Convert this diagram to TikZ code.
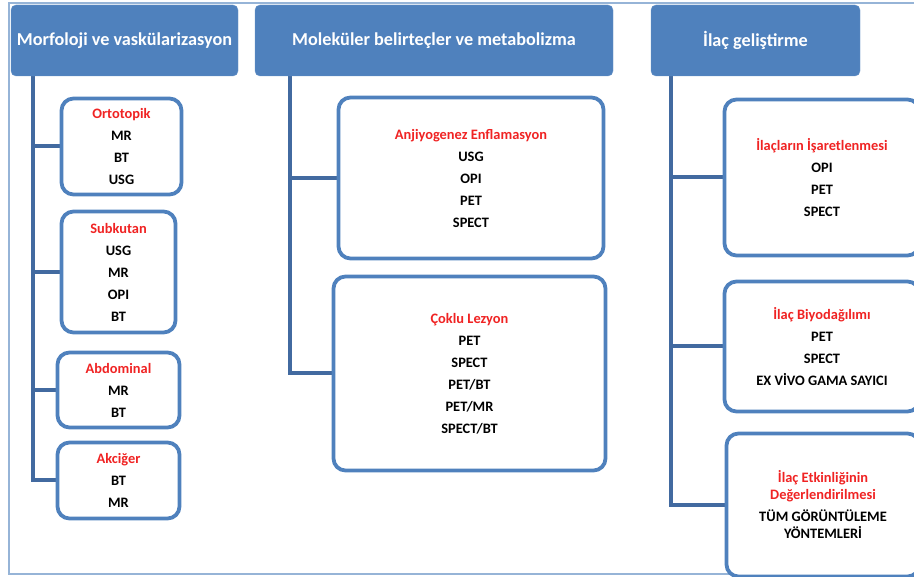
\documentclass[tikz,border=0pt]{standalone}
\usepackage{fontspec}
\setmainfont{Carlito}
\usetikzlibrary{positioning}
\usetikzlibrary{backgrounds}
\definecolor{hdrblue}{RGB}{79,129,189}
\definecolor{linkblue}{RGB}{66,106,160}
\definecolor{frameblue}{RGB}{150,180,215}
\definecolor{titlered}{RGB}{240,35,35}
\newcommand{\boxtitle}[1]{\textcolor{titlered}{#1}}

\begin{document}
\begin{tikzpicture}[%
    x=1pt, y=-1pt,
    hnode/.style={rectangle, rounded corners=5pt, fill=hdrblue, draw=hdrblue!85!white, text=white, align=center, minimum height=71pt, font=\fontsize{18.2}{22}\selectfont\bfseries},
    cnode/.style={rectangle, rounded corners=12pt, draw=hdrblue, fill=white, line width=3.8pt, align=center, font=\fontsize{14.4}{17}\selectfont\bfseries},
    link/.style={draw=linkblue, line width=4pt, line join=miter}
]
\useasboundingbox (0,0) rectangle (914,577);
\clip (0,0) rectangle (914,577);

% frame
\draw[frameblue, line width=1.2pt] (914,3) -- (9,3) -- (9,574) -- (914,574);

% headers
\node[hnode, minimum width=227pt] (morph) at (124.5,40.5) {Morfoloji ve vaskülarizasyon};
\node[hnode, minimum width=358pt] (molek) at (434,40.5) {Moleküler belirteçler ve metabolizma};
\node[hnode, minimum width=209pt] (ilac)  at (755.5,40.5) {İlaç geliştirme};

% morfoloji Nodes
\node[cnode, minimum width=120pt, minimum height=96pt]  (ortho) at (121.5,146.5) {\boxtitle{Ortotopik}\\[5pt] MR\\[5pt] BT\\[5pt] USG};
\node[cnode, minimum width=114pt, minimum height=121pt] (subku) at (118.5,272) {\boxtitle{Subkutan}\\[5pt] USG\\[5pt] MR\\[5pt] OPI\\[5pt] BT};
\node[cnode, minimum width=122pt, minimum height=75pt]  (abdom) at (118.5,390) {\boxtitle{Abdominal}\\[5pt] MR\\[5pt] BT};
\node[cnode, minimum width=122pt, minimum height=76pt]  (akcig) at (118.5,480.5) {\boxtitle{Akciğer}\\[5pt] BT\\[5pt] MR};

% molekuler Nodes
\node[cnode, minimum width=265pt, minimum height=161pt] (anji)  at (471,178) {\boxtitle{Anjiyogenez Enflamasyon}\\[5pt] USG\\[5pt] OPI\\[5pt] PET\\[5pt] SPECT};
\node[cnode, minimum width=272pt, minimum height=194pt] (coklu) at (469.5,373.5) {\boxtitle{Çoklu Lezyon}\\[5pt] PET\\[5pt] SPECT\\[5pt] PET/BT\\[5pt] PET/MR\\[5pt] SPECT/BT};

% ilac Nodes
\node[cnode, minimum width=195pt, minimum height=156pt] (isaret) at (822,177.5) {\boxtitle{İlaçların İşaretlenmesi}\\[5pt] OPI\\[5pt] PET\\[5pt] SPECT};
\node[cnode, minimum width=195pt, minimum height=130pt] (biyo)   at (822,346.5) {\boxtitle{İlaç Biyodağılımı}\\[5pt] PET\\[5pt] SPECT\\[5pt] EX VİVO GAMA SAYICI};
\node[cnode, minimum width=193pt, minimum height=143pt] (etkin)  at (823,505) {\boxtitle{İlaç Etkinliğinin}\\\boxtitle{Değerlendirilmesi}\\[5pt] TÜM GÖRÜNTÜLEME\\YÖNTEMLERİ};

% trunks
\coordinate (morphtrunk) at ([xshift=22pt]morph.south west);
\coordinate (molektrunk) at ([xshift=35pt]molek.south west);
\coordinate (ilactrunk)  at ([xshift=20pt]ilac.south west);

% Lines
\begin{scope}[on background layer]
\foreach \b in {ortho, subku, abdom, akcig}
    \draw[link] (\b.west) -| (morphtrunk);
\foreach \b in {anji, coklu}
    \draw[link] (\b.west) -| (molektrunk);
\foreach \b in {isaret, biyo, etkin}
    \draw[link] (\b.west) -| (ilactrunk);
\end{scope}

\end{tikzpicture}
\end{document}
